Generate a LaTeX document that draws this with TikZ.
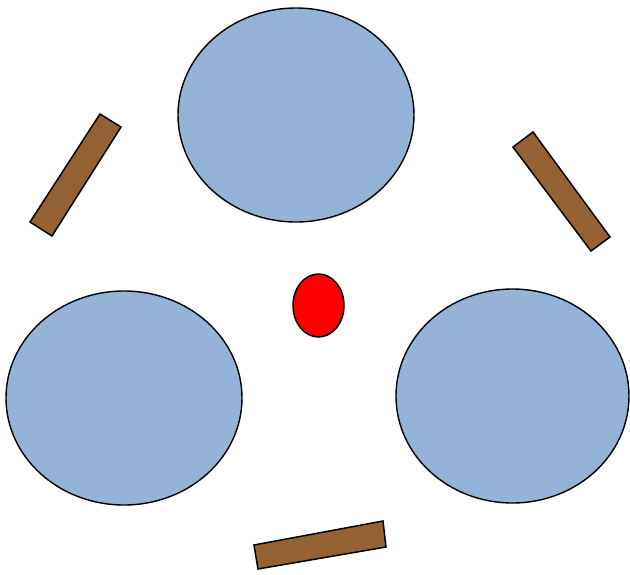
\documentclass[tikz,border=0pt]{standalone}
\begin{document}
\begin{tikzpicture}[x=1pt,y=-1pt,
  blueblob/.style={draw=black,fill={rgb,255:red,149;green,179;blue,215},line width=1.4pt},
  redblob/.style={draw=black,fill=red,line width=1.5pt},
  brownbar/.style={draw=black,fill={rgb,255:red,148;green,98;blue,50},line width=1.5pt,line join=miter}]
\useasboundingbox (0,0) rectangle (630,574);
\draw[blueblob] (296,115) ellipse [x radius=118, y radius=107];
\draw[blueblob] (124,398) ellipse [x radius=118, y radius=107];
\draw[blueblob] (512.5,396) ellipse [x radius=116.5, y radius=107];
\draw[redblob] (318.5,305.5) ellipse [x radius=25.5, y radius=31.5];
\draw[brownbar] (100,114) -- (121,127) -- (52,236) -- (30,222) -- cycle;
\draw[brownbar] (533,132) -- (513,147) -- (591,251) -- (610,237) -- cycle;
\draw[brownbar] (254,545) -- (383,521) -- (386,547) -- (258,569) -- cycle;
\end{tikzpicture}
\end{document}
